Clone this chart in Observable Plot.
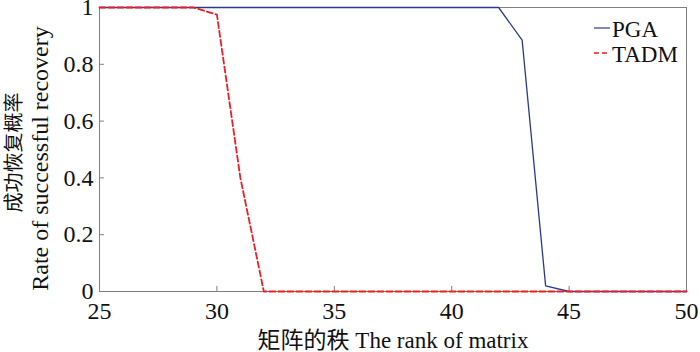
<!DOCTYPE html>
<html><head><meta charset="utf-8">
<script src="https://cdn.jsdelivr.net/npm/d3@7"></script>
<script src="https://cdn.jsdelivr.net/npm/@observablehq/plot@0.6"></script>
<style>
body{margin:0;background:#fff}
#chart{width:700px;height:352px}
#chart svg{font-family:"Liberation Serif","Times New Roman","Noto Sans CJK SC",serif}
#chart svg text.cjk{font-family:"Noto Sans CJK SC",sans-serif}
</style>
</head><body><div id="chart"></div>
<script>
// ---- data ----
const ranks = [25,26,27,28,29,30,31,32,33,34,35,36,37,38,39,40,41,42,43,44,45,46,47,48,49,50];
const pga   = [1,1,1,1,1,1,1,1,1,1,1,1,1,1,1,1,1,1,0.885,0.02,0,0,0,0,0,0];
const tadm  = [1,1,1,1,1,0.975,0.40,0,0,0,0,0,0,0,0,0,0,0,0,0,0,0,0,0,0,0];
const seriesNames = ["PGA", "TADM"];
const xTicks = [25,30,35,40,45,50];
const yTicks = [0,0.2,0.4,0.6,0.8,1];
const xLabel = "矩阵的秩 The rank of matrix";
const yLabelCn = "成功恢复概率";
const yLabelEn = "Rate of successful recovery";

const colors = {PGA: "#2b3990", TADM: "#ee1d23"};
const pgaRows = ranks.map((r, i) => ({rank: r, value: pga[i], method: seriesNames[0]}));
const tadmRows = ranks.map((r, i) => ({rank: r, value: tadm[i], method: seriesNames[1]}));

const axisColor = "#808080";
const serif = "Liberation Serif, Times New Roman, Noto Sans CJK SC, serif";

const plot = Plot.plot({
  width: 700, height: 352,
  marginLeft: 99, marginRight: 14, marginTop: 7, marginBottom: 61,
  style: {fontSize: "24px", color: "#111", background: "#fff", overflow: "visible"},
  x: {domain: [25, 50]},
  y: {domain: [0, 1]},
  marks: [
    Plot.frame({stroke: axisColor}),
    Plot.ruleX(xTicks, {x: d => d, y1: 0, y2: 0.018, stroke: axisColor}),
    Plot.ruleY(yTicks, {y: d => d, x1: 25, x2: 25.21, stroke: axisColor}),
    Plot.axisX(xTicks, {tickSize: 0, tickPadding: 10, fontSize: 24, fontFamily: serif, label: null, tickFormat: d => String(d)}),
    Plot.axisY(yTicks, {tickSize: 0, tickPadding: 6, fontSize: 24, fontFamily: serif, label: null, tickFormat: d => String(d)}),
    Plot.line(pgaRows, {x: "rank", y: "value", stroke: colors.PGA, strokeWidth: 1.3}),
    Plot.line(tadmRows, {x: "rank", y: "value", stroke: colors.TADM, strokeWidth: 1.8, strokeDasharray: "6,3"}),
    Plot.text([xLabel], {text: d => d, frameAnchor: "bottom", textAnchor: "middle", dy: 49, fontSize: 23, fontFamily: serif, lineAnchor: "middle"}),
    Plot.text([yLabelCn], {text: d => d, frameAnchor: "left", textAnchor: "middle", rotate: -90, dx: -85, dy: 3, fontSize: 20, fontFamily: "Noto Sans CJK SC, sans-serif", lineAnchor: "middle"}),
    Plot.text([yLabelEn], {text: d => d, frameAnchor: "left", textAnchor: "middle", rotate: -90, dx: -59, dy: 9, fontSize: 24, fontFamily: serif, lineAnchor: "middle"})
  ]
});
document.getElementById("chart").appendChild(plot);

// legend (inside the frame, top right)
const svg = d3.select(plot);
const lg = svg.append("g")
  .attr("font-family", serif).attr("font-size", 23)
  .attr("fill", "#111").attr("text-anchor", "start");
seriesNames.forEach((name, i) => {
  const y = 28 + i * 25;
  lg.append("line")
    .attr("x1", 594).attr("x2", 610).attr("y1", y).attr("y2", y)
    .attr("stroke", colors[name])
    .attr("stroke-width", name === "PGA" ? 1.2 : 1.6)
    .attr("stroke-dasharray", name === "PGA" ? null : "5,3");
  lg.append("text").attr("x", 612).attr("y", y + 9).attr("text-anchor", "start").text(name);
});
</script>
</body></html>
